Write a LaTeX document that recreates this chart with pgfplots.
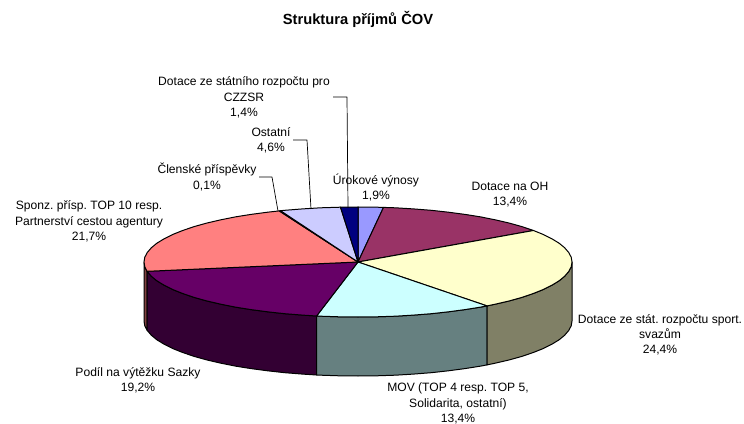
\documentclass[border=0pt]{standalone}
\usepackage{fontspec}
\setmainfont{Liberation Sans}
\usepackage{pgfplots}
\pgfplotsset{compat=1.18}
\frenchspacing
\definecolor{c1}{HTML}{9999FF}
\definecolor{c2}{HTML}{993366}
\definecolor{c3}{HTML}{FFFFCC}
\definecolor{c4}{HTML}{CCFFFF}
\definecolor{c5}{HTML}{660066}
\definecolor{c6}{HTML}{FF8080}
\definecolor{c7}{HTML}{0066CC}
\definecolor{c8}{HTML}{CCCCFF}
\definecolor{c9}{HTML}{000080}
\definecolor{s3}{HTML}{808066}
\definecolor{s4}{HTML}{668080}
\definecolor{s5}{HTML}{330033}
\definecolor{s6}{HTML}{804040}
\tikzset{lab/.style={align=center,inner sep=0pt,font=\fontsize{12.1}{15.3}\selectfont}}
\begin{document}
\begin{tikzpicture}
\begin{axis}[
  scale only axis, width=744pt, height=423pt,
  xmin=0, xmax=744, ymin=0, ymax=423, y dir=reverse,
  axis line style={draw=none}, ticks=none, clip=false,
  every axis plot/.append style={no markers, line width=1pt, draw=black, line join=round},
]
% sides
\addplot[fill=s6] coordinates {(147.1,271.3)(144.8,266.8)(144,262)(144,321)(144.8,325.8)(147.1,330.3)} -- cycle;
\addplot[fill=s5] coordinates {(316.6,316)(302.6,315.1)(284.8,313.7)(267.6,311.8)(251,309.6)(235.3,307.1)(220.4,304.1)(206.7,300.9)(194.1,297.4)(182.7,293.5)(172.7,289.5)(164.1,285.2)(156.9,280.8)(151.3,276.2)(147.3,271.5)(147.1,271.3)(147.1,330.3)(147.3,330.5)(151.3,335.2)(156.9,339.8)(164.1,344.2)(172.7,348.5)(182.7,352.5)(194.1,356.4)(206.7,359.9)(220.4,363.1)(235.3,366.1)(251,368.6)(267.6,370.8)(284.8,372.7)(302.6,374.1)(316.6,375)} -- cycle;
\addplot[fill=s4] coordinates {(487,305.9)(480.7,307.1)(465,309.6)(448.4,311.8)(431.2,313.7)(413.4,315.1)(395.2,316.2)(376.7,316.8)(358,317)(339.3,316.8)(320.8,316.2)(316.6,316)(316.6,375)(320.8,375.2)(339.3,375.8)(358,376)(376.7,375.8)(395.2,375.2)(413.4,374.1)(431.2,372.7)(448.4,370.8)(465,368.6)(480.7,366.1)(487,364.9)} -- cycle;
\addplot[fill=s3] coordinates {(572,262)(571.2,266.8)(568.7,271.5)(564.7,276.2)(559.1,280.8)(551.9,285.2)(543.3,289.5)(533.3,293.5)(521.9,297.4)(509.3,300.9)(495.6,304.1)(487,305.9)(487,364.9)(495.6,363.1)(509.3,359.9)(521.9,356.4)(533.3,352.5)(543.3,348.5)(551.9,344.2)(559.1,339.8)(564.7,335.2)(568.7,330.5)(571.2,325.8)(572,321)} -- cycle;
% top slices
\addplot[fill=c1] coordinates {(358,262)(358,207)(376.7,207.2)(383.5,207.4)} -- cycle;
\addplot[fill=c2] coordinates {(358,262)(383.5,207.4)(395.2,207.8)(413.4,208.9)(431.2,210.3)(448.4,212.2)(465,214.4)(480.7,216.9)(495.6,219.9)(509.3,223.1)(521.9,226.6)(533.5,230.5)} -- cycle;
\addplot[fill=c3] coordinates {(358,262)(533.5,230.5)(543.3,234.5)(551.9,238.8)(559.1,243.2)(564.7,247.8)(568.7,252.5)(571.2,257.2)(572,262)(571.2,266.8)(568.7,271.5)(564.7,276.2)(559.1,280.8)(551.9,285.2)(543.3,289.5)(533.3,293.5)(521.9,297.4)(509.3,300.9)(495.6,304.1)(487,305.9)} -- cycle;
\addplot[fill=c4] coordinates {(358,262)(487,305.9)(480.7,307.1)(465,309.6)(448.4,311.8)(431.2,313.7)(413.4,315.1)(395.2,316.2)(376.7,316.8)(358,317)(339.3,316.8)(320.8,316.2)(316.6,316)} -- cycle;
\addplot[fill=c5] coordinates {(358,262)(316.6,316)(302.6,315.1)(284.8,313.7)(267.6,311.8)(251,309.6)(235.3,307.1)(220.4,304.1)(206.7,300.9)(194.1,297.4)(182.7,293.5)(172.7,289.5)(164.1,285.2)(156.9,280.8)(151.3,276.2)(147.1,271.3)} -- cycle;
\addplot[fill=c6] coordinates {(358,262)(147.1,271.3)(144.8,266.8)(144,262)(144.8,257.2)(147.3,252.5)(151.3,247.8)(156.9,243.2)(164.1,238.8)(172.7,234.5)(182.7,230.5)(194.1,226.6)(206.7,223.1)(220.4,219.9)(235.3,216.9)(251,214.4)(267.6,212.2)(279.2,210.9)} -- cycle;
\addplot[fill=c7] coordinates {(358,262)(279.2,210.9)(280.5,210.7)} -- cycle;
\addplot[fill=c8] coordinates {(358,262)(280.5,210.7)(284.8,210.3)(302.6,208.9)(320.8,207.8)(340.5,207.2)} -- cycle;
\addplot[fill=c9] coordinates {(358,262)(340.5,207.2)(358,207)} -- cycle;
% leader lines
\addplot[line width=0.7pt] coordinates {(259,177)(272,177)(278,211)};
\addplot[line width=0.7pt] coordinates {(293,140)(307,140)(311,209)};
\addplot[line width=0.7pt] coordinates {(333,97)(347,97)(348,208)};
% labels
\node[lab,font=\fontsize{14.7}{17}\selectfont\bfseries] at (axis cs:358,19) {Struktura příjmů ČOV};
\node[lab] at (axis cs:244,97.5) {Dotace ze státního rozpočtu pro\\CZZSR\\1,4\%};
\node[lab] at (axis cs:271,140.5) {Ostatní\\4,6\%};
\node[lab] at (axis cs:207,177) {Členské příspěvky\\0,1\%};
\node[lab] at (axis cs:376,187.5) {Úrokové výnosy\\1,9\%};
\node[lab] at (axis cs:510,194.5) {Dotace na OH\\13,4\%};
\node[lab] at (axis cs:89,221.5) {Sponz. přísp. TOP 10 resp.\\Partnerství cestou agentury\\21,7\%};
\node[lab] at (axis cs:660,335) {Dotace ze stát. rozpočtu sport.\\svazům\\24,4\%};
\node[lab] at (axis cs:458,403.5) {MOV (TOP 4 resp. TOP 5,\\Solidarita, ostatní)\\13,4\%};
\node[lab] at (axis cs:138,380) {Podíl na výtěžku Sazky\\19,2\%};
\end{axis}
\end{tikzpicture}
\end{document}
